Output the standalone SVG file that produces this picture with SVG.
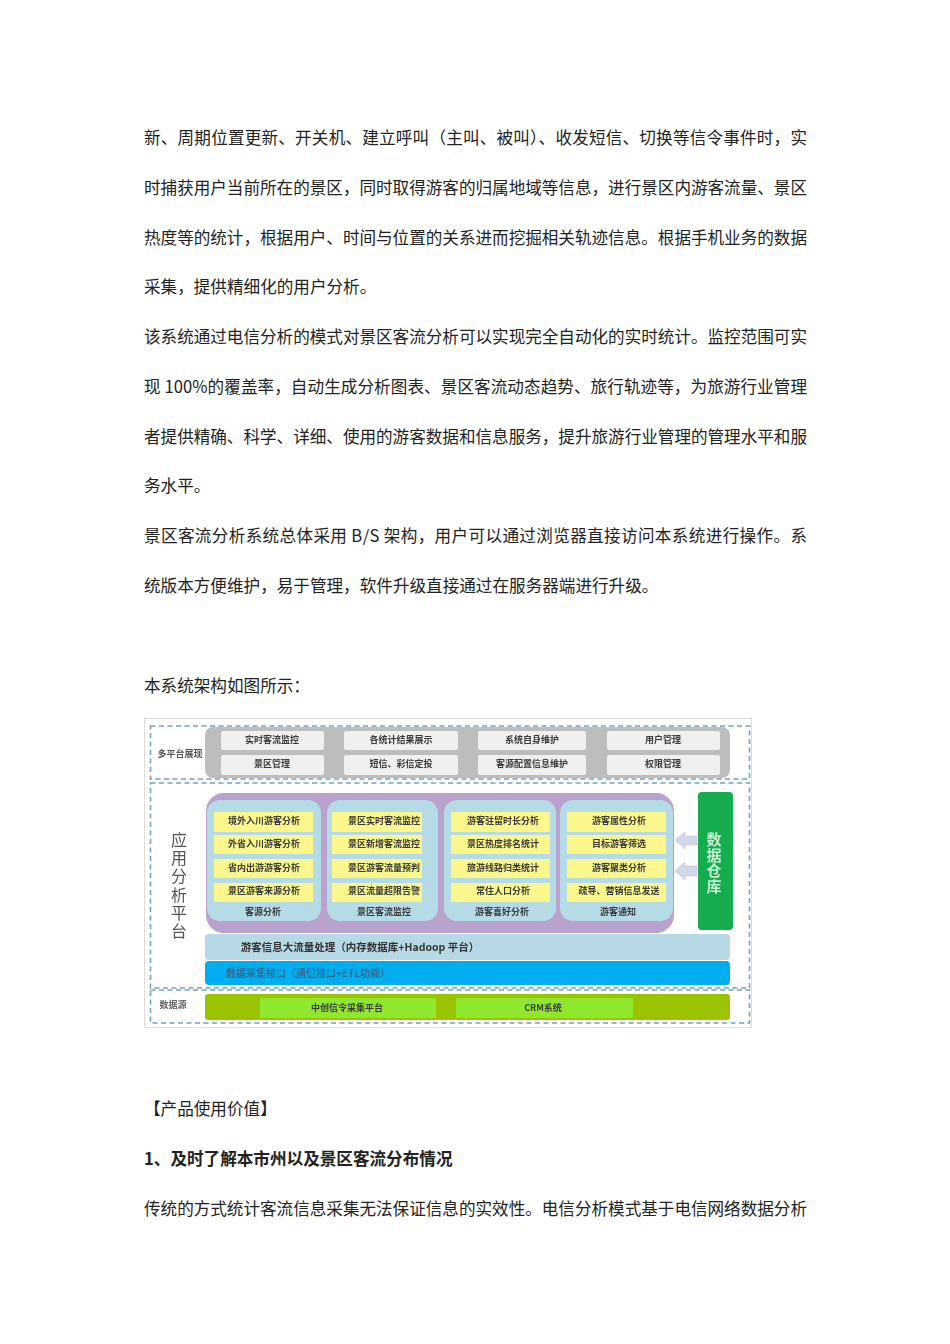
<svg xmlns="http://www.w3.org/2000/svg" width="950" height="1344" viewBox="0 0 950 1344">
<style>
text{font-family:"Noto Sans CJK SC","Liberation Sans",sans-serif}
.p{font-size:16.6px;fill:#222}
.b{font-weight:700}
.t{font-size:9px;font-weight:700;fill:#3a3a3a;text-anchor:middle}
.d{fill:none;stroke:#6fa3c7;stroke-width:1.6;stroke-dasharray:5 3.5}
.btn{fill:#f0f0f0}
.y{fill:#fbf78c}
.c{fill:#b5dbe6}
.arr{fill:#d3d7ea;stroke:#b4bcd8;stroke-width:.5}
.v{writing-mode:vertical-rl;text-anchor:start}
</style>
<defs><filter id="soft" x="-2%" y="-2%" width="104%" height="104%"><feGaussianBlur stdDeviation="0.35"/></filter></defs>
<rect width="950" height="1344" fill="#fff"/>
<g id="body-text">
<text class="p" x="144" y="144" textLength="663" lengthAdjust="spacing">新、周期位置更新、开关机、建立呼叫（主叫、被叫）、收发短信、切换等信令事件时，实</text>
<text class="p" x="144" y="194" textLength="663" lengthAdjust="spacing">时捕获用户当前所在的景区，同时取得游客的归属地域等信息，进行景区内游客流量、景区</text>
<text class="p" x="144" y="244" textLength="663" lengthAdjust="spacing">热度等的统计，根据用户、时间与位置的关系进而挖掘相关轨迹信息。根据手机业务的数据</text>
<text class="p" x="144" y="293">采集，提供精细化的用户分析。</text>
<text class="p" x="144" y="343" textLength="663" lengthAdjust="spacing">该系统通过电信分析的模式对景区客流分析可以实现完全自动化的实时统计。监控范围可实</text>
<text class="p" x="144" y="393" textLength="663" lengthAdjust="spacing">现 100%的覆盖率，自动生成分析图表、景区客流动态趋势、旅行轨迹等，为旅游行业管理</text>
<text class="p" x="144" y="443" textLength="663" lengthAdjust="spacing">者提供精确、科学、详细、使用的游客数据和信息服务，提升旅游行业管理的管理水平和服</text>
<text class="p" x="144" y="492">务水平。</text>
<text class="p" x="144" y="542" textLength="663" lengthAdjust="spacing">景区客流分析系统总体采用 B/S 架构，用户可以通过浏览器直接访问本系统进行操作。系</text>
<text class="p" x="144" y="592">统版本方便维护，易于管理，软件升级直接通过在服务器端进行升级。</text>
<text class="p" x="144" y="692">本系统架构如图所示：</text>
<text class="p" x="144" y="1115">【产品使用价值】</text>
<text class="p b" x="144" y="1165">1、及时了解本市州以及景区客流分布情况</text>
<text class="p" x="144" y="1215" textLength="663" lengthAdjust="spacing">传统的方式统计客流信息采集无法保证信息的实效性。电信分析模式基于电信网络数据分析</text>
</g>
<g id="figure" filter="url(#soft)">
<rect x="144.5" y="718.5" width="607" height="309" fill="#fff" stroke="#ddd"/>
<g id="platform-layer">
<rect class="d" x="150.5" y="726" width="599" height="53"/>
<rect x="205" y="727" width="525" height="51" rx="8" fill="#bdbdbd"/>
<text class="t" x="180" y="757" style="fill:#555">多平台展现</text>
<g id="n-top1"><rect class="btn" x="221" y="731" width="103" height="19" rx="2"/><text class="t" x="272" y="743">实时客流监控</text></g>
<g id="n-top2"><rect class="btn" x="344" y="731" width="114" height="19" rx="2"/><text class="t" x="401" y="743">各统计结果展示</text></g>
<g id="n-top3"><rect class="btn" x="478" y="731" width="108" height="19" rx="2"/><text class="t" x="532" y="743">系统自身维护</text></g>
<g id="n-top4"><rect class="btn" x="607" y="731" width="113" height="19" rx="2"/><text class="t" x="663" y="743">用户管理</text></g>
<g id="n-top5"><rect class="btn" x="221" y="755" width="103" height="20" rx="2"/><text class="t" x="272" y="767">景区管理</text></g>
<g id="n-top6"><rect class="btn" x="344" y="755" width="114" height="20" rx="2"/><text class="t" x="401" y="767">短信、彩信定投</text></g>
<g id="n-top7"><rect class="btn" x="478" y="755" width="108" height="20" rx="2"/><text class="t" x="532" y="767">客源配置信息维护</text></g>
<g id="n-top8"><rect class="btn" x="607" y="755" width="113" height="20" rx="2"/><text class="t" x="663" y="767">权限管理</text></g>
</g>
<g id="analysis-layer">
<rect class="d" x="150.5" y="783" width="599" height="205"/>
<text class="v" x="179" y="832" font-size="16" letter-spacing="2.2" fill="#555">应用分析平台</text>
<rect x="206" y="793" width="468" height="140" rx="18" fill="#b9a3cc"/>
<rect class="c" x="207" y="800" width="114" height="121" rx="13"/>
<rect class="c" x="327" y="800" width="111" height="121" rx="13"/>
<rect class="c" x="444" y="800" width="112" height="121" rx="13"/>
<rect class="c" x="560" y="800" width="113" height="121" rx="13"/>
<g id="n-a1"><rect class="y" x="214" y="812" width="99" height="20"/><text class="t" x="264" y="824">境外入川游客分析</text></g>
<g id="n-a2"><rect class="y" x="214" y="835" width="99" height="19"/><text class="t" x="264" y="847">外省入川游客分析</text></g>
<g id="n-a3"><rect class="y" x="214" y="859" width="99" height="19"/><text class="t" x="264" y="871">省内出游游客分析</text></g>
<g id="n-a4"><rect class="y" x="214" y="883" width="99" height="19"/><text class="t" x="264" y="894">景区游客来源分析</text></g>
<text class="t" x="263" y="915">客源分析</text>
<g id="n-b1"><rect class="y" x="332" y="812" width="90" height="20"/><text class="t" x="384" y="824">景区实时客流监控</text></g>
<g id="n-b2"><rect class="y" x="332" y="835" width="90" height="19"/><text class="t" x="384" y="847">景区新增客流监控</text></g>
<g id="n-b3"><rect class="y" x="332" y="859" width="90" height="19"/><text class="t" x="384" y="871">景区游客流量预判</text></g>
<g id="n-b4"><rect class="y" x="332" y="883" width="90" height="19"/><text class="t" x="384" y="894">景区流量超限告警</text></g>
<text class="t" x="384" y="915">景区客流监控</text>
<g id="n-c1"><rect class="y" x="451" y="812" width="99" height="20"/><text class="t" x="503" y="824">游客驻留时长分析</text></g>
<g id="n-c2"><rect class="y" x="451" y="835" width="99" height="19"/><text class="t" x="503" y="847">景区热度排名统计</text></g>
<g id="n-c3"><rect class="y" x="451" y="859" width="99" height="19"/><text class="t" x="503" y="871">旅游线路归类统计</text></g>
<g id="n-c4"><rect class="y" x="451" y="883" width="99" height="19"/><text class="t" x="503" y="894">常住人口分析</text></g>
<text class="t" x="502" y="915">游客喜好分析</text>
<g id="n-d1"><rect class="y" x="567" y="812" width="99" height="20"/><text class="t" x="619" y="824">游客属性分析</text></g>
<g id="n-d2"><rect class="y" x="567" y="835" width="99" height="19"/><text class="t" x="619" y="847">目标游客筛选</text></g>
<g id="n-d3"><rect class="y" x="567" y="859" width="99" height="19"/><text class="t" x="619" y="871">游客聚类分析</text></g>
<g id="n-d4"><rect class="y" x="567" y="883" width="99" height="19"/><text class="t" x="619" y="894" font-size="8.6">疏导、营销信息发送</text></g>
<text class="t" x="618" y="915">游客通知</text>
<g id="n-warehouse"><rect x="698" y="792" width="35" height="138" rx="4" fill="#12ad4f"/>
<text class="v" x="714" y="832" font-size="15" font-weight="700" letter-spacing="0.6" fill="#c9efd3">数据仓库</text></g>
<g id="connectors">
<path class="arr" d="M675 840 L685 832 V836 H697 V845 H685 V849 Z"/>
<path class="arr" d="M675 871 L685 862 V866 H697 V876 H685 V880 Z"/>
</g>
<g id="n-bigdata"><rect x="205" y="934" width="525" height="26" rx="4" fill="#b7d9e6"/><text x="360" y="951" font-size="10.5" font-weight="700" fill="#333" text-anchor="middle">游客信息大流量处理（内存数据库+Hadoop 平台）</text></g>
<g id="n-collect"><rect x="205" y="961" width="525" height="24" rx="4" fill="#00aeef"/><text x="308" y="977" font-size="10" font-weight="700" fill="#2a6d99" text-anchor="middle">数据采集接口（通信接口+ETL功能）</text></g>
</g>
<g id="source-layer">
<rect class="d" x="150.5" y="990" width="599" height="33"/>
<text class="t" x="173" y="1008" style="fill:#666">数据源</text>
<rect x="205" y="994" width="525" height="26" rx="3" fill="#9bc400"/>
<g id="n-s1"><rect x="260" y="998" width="176" height="20" fill="#8fe82e"/><text class="t" x="347" y="1011">中创信令采集平台</text></g>
<g id="n-s2"><rect x="456" y="998" width="177" height="20" fill="#8fe82e"/><text class="t" x="543" y="1011">CRM系统</text></g>
</g>
</g>
</svg>
